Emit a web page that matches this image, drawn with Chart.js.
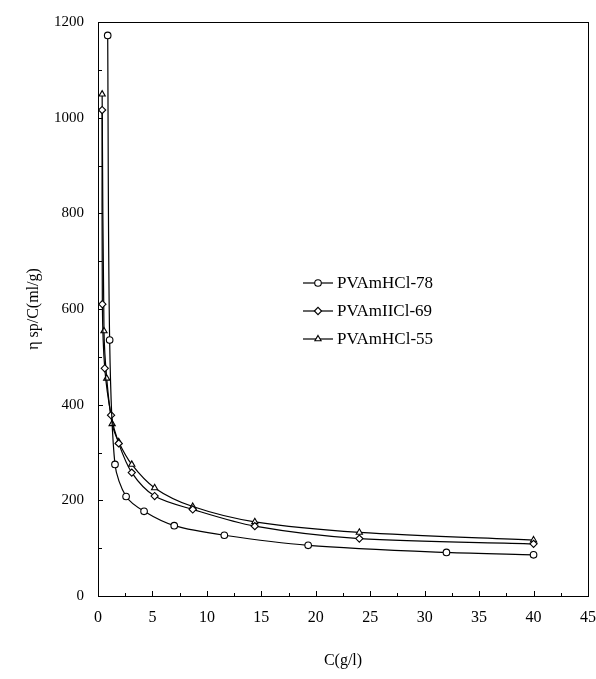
<!DOCTYPE html>
<html>
<head>
<meta charset="utf-8">
<script src="https://cdn.jsdelivr.net/npm/chart.js@4/dist/chart.umd.min.js"></script>
<style>
  html, body { margin: 0; padding: 0; background: #ffffff; }
  #wrap { width: 596px; height: 679px; }
</style>
</head>
<body>
<div id="wrap"><canvas id="chart-canvas" width="596" height="679"></canvas></div>
<script>
// ----- data -----
var SERIES_NAMES = ["PVAmHCl-78", "PVAmIICl-69", "PVAmHCl-55"];
var POINT_STYLES = ["circle", "rectRot", "triangle"];

// PVAmHCl-78 (circles)
var c78 = [0.89, 1.07, 1.56, 2.58, 4.23, 7.0, 11.6, 19.3, 32.0, 40.0];
var v78 = [1172, 535, 275, 208, 177, 147, 127, 106, 91, 86];

// PVAmIICl-69 (diamonds)
var c69 = [0.38, 0.40, 0.62, 1.2, 1.9, 3.1, 5.2, 8.7, 14.4, 24.0, 40.0];
var v69 = [1016, 610, 476, 378, 319, 258, 209, 181, 146, 120, 109];

// PVAmHCl-55 (triangles)
var c55 = [0.38, 0.55, 0.8, 1.3, 1.9, 3.1, 5.2, 8.7, 14.4, 24.0, 40.0];
var v55 = [1049, 554, 455, 360, 322, 275, 226, 187, 155, 133, 117];

// axis ticks
var X_TICKS = [0, 5, 10, 15, 20, 25, 30, 35, 40, 45];
var Y_TICKS = [0, 200, 400, 600, 800, 1000, 1200];

var FONT = "'Liberation Serif', 'Times New Roman', serif";

/**
 * Zips x and y arrays into {x, y} points for the scatter dataset.
 */
function toPoints(xs, ys) {
  var out = [];
  for (var i = 0; i < xs.length; i++) out.push({ x: xs[i], y: ys[i] });
  return out;
}

function makeDataset(label, xs, ys, style) {
  return {
    label: label,
    data: toPoints(xs, ys),
    showLine: true,
    borderColor: "#000000",
    borderWidth: 1.2,
    tension: 0.3,
    pointStyle: style,
    pointRadius: style === "circle" ? 3.3 : 3.6,
    pointBackgroundColor: "#ffffff",
    pointBorderColor: "#000000",
    pointBorderWidth: 1.1,
  };
}

// Frame, inward tick marks and the in-plot legend
var decorPlugin = {
  id: "decor",
  afterDatasetsDraw: function(chart) {
    var ctx = chart.ctx;
    var a = chart.chartArea;
    var xs = chart.scales.x;
    var ys = chart.scales.y;
    ctx.save();
    ctx.strokeStyle = "#000000";
    ctx.lineWidth = 1;
    ctx.strokeRect(a.left + 0.5, a.top + 0.5, a.right - a.left, a.bottom - a.top);

    // x ticks: major every 5, minor every 2.5
    ctx.beginPath();
    for (var v = 0; v <= 45; v += 2.5) {
      var px = Math.round(xs.getPixelForValue(v)) + 0.5;
      var len = (v % 5 === 0) ? 5 : 3;
      ctx.moveTo(px, a.bottom);
      ctx.lineTo(px, a.bottom - len);
    }
    // y ticks: major every 200, minor every 100
    for (var w = 0; w <= 1200; w += 100) {
      var py = Math.round(ys.getPixelForValue(w)) + 0.5;
      var len2 = (w % 200 === 0) ? 5 : 4;
      ctx.moveTo(a.left, py);
      ctx.lineTo(a.left + len2, py);
    }
    ctx.stroke();

    // legend
    var lx = a.left + 205, ly = a.top + 261, gap = 28;
    ctx.font = "17px " + FONT;
    ctx.textBaseline = "middle";
    ctx.fillStyle = "#000000";
    chart.data.datasets.forEach(function(ds, i) {
      var y = ly + i * gap;
      ctx.lineWidth = 1.2;
      ctx.beginPath();
      ctx.moveTo(lx, y);
      ctx.lineTo(lx + 30, y);
      ctx.stroke();
      ctx.fillStyle = "#ffffff";
      ctx.lineWidth = 1.1;
      Chart.helpers.drawPoint(ctx, {
        pointStyle: ds.pointStyle, radius: ds.pointRadius, borderWidth: 1.1, rotation: 0
      }, lx + 15, y);
      ctx.fillStyle = "#000000";
      ctx.fillText(ds.label, lx + 34, y + 1);
    });
    ctx.restore();
  },
};

var canvas = document.getElementById("chart-canvas");
var chartInstance = new Chart(canvas.getContext("2d"), {
  type: "scatter",
  data: {
    datasets: [
      makeDataset(SERIES_NAMES[0], c78, v78, POINT_STYLES[0]),
      makeDataset(SERIES_NAMES[1], c69, v69, POINT_STYLES[1]),
      makeDataset(SERIES_NAMES[2], c55, v55, POINT_STYLES[2]),
    ],
  },
  options: {
    responsive: false,
    animation: false,
    layout: { padding: { left: 0, right: 8, top: 22, bottom: 0 } },
    plugins: { legend: { display: false }, tooltip: { enabled: false } },
    scales: {
      x: {
        type: "linear",
        min: 0, max: 45,
        afterBuildTicks: function(s) { s.ticks = X_TICKS.map(function(v) { return { value: v }; }); },
        afterFit: function(s) { s.height = 83; s.paddingLeft = 0; s.paddingRight = 0; },
        grid: { display: false, drawTicks: false },
        border: { display: false },
        ticks: { color: "#000000", padding: 12, maxRotation: 0, font: { family: FONT, size: 16 } },
        title: {
          display: true, text: "C(g/l)", color: "#000000",
          font: { family: FONT, size: 16 }, padding: { top: 0, bottom: 9 },
        },
      },
      y: {
        type: "linear",
        min: 0, max: 1200,
        afterBuildTicks: function(s) { s.ticks = Y_TICKS.map(function(v) { return { value: v }; }); },
        afterFit: function(s) { s.width = 98; s.paddingTop = 0; s.paddingBottom = 0; },
        grid: { display: false, drawTicks: false },
        border: { display: false },
        ticks: {
          color: "#000000", padding: 14, font: { family: FONT, size: 15 },
          callback: function(value) { return String(value); },
        },
        title: {
          display: true, text: "η sp/C(ml/g)", color: "#000000",
          font: { family: FONT, size: 16 }, padding: { top: 24, bottom: 0 },
        },
      },
    },
  },
  plugins: [decorPlugin],
});
</script>
</body>
</html>
